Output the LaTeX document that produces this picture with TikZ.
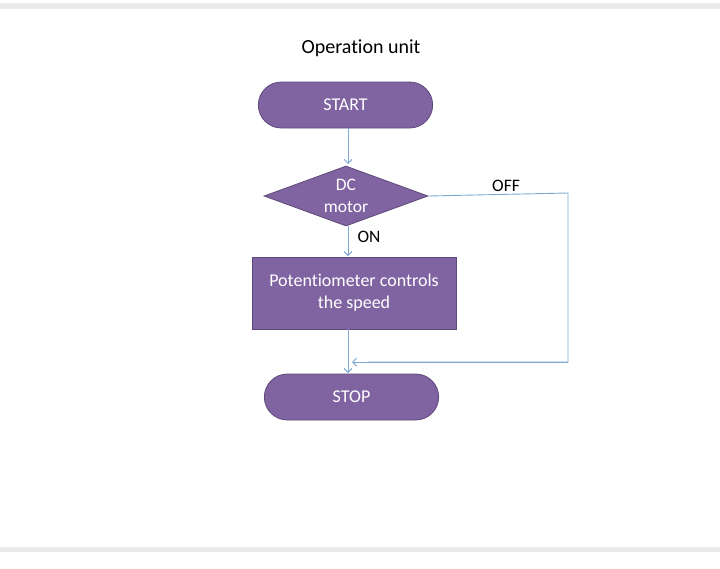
\documentclass[tikz,border=0pt]{standalone}
\usepackage{fontspec}
\setmainfont[Ligatures={NoCommon}]{Carlito}
\usetikzlibrary{shapes.geometric,shapes.misc,arrows.meta}
\definecolor{purp}{HTML}{8064A2}
\definecolor{purpedge}{HTML}{5E4A7A}
\definecolor{linec}{HTML}{7FA9D2}
\definecolor{band}{HTML}{EBEBEB}
\tikzset{
  term/.style={rounded rectangle, fill=purp, draw=purpedge, line width=0.8pt, minimum width=181pt, minimum height=46pt, text=white, font=\fontsize{18}{20}\selectfont},
  dec/.style={diamond, aspect=2.73, fill=purp, draw=purpedge, line width=0.8pt, minimum width=164pt, minimum height=60pt, inner sep=0pt, text=white, align=center, font=\fontsize{17.5}{22}\selectfont},
  proc/.style={rectangle, fill=purp, draw=purpedge, line width=0.8pt, minimum width=204pt, minimum height=72pt, text=white, align=center, font=\fontsize{18}{22}\selectfont},
  conn/.style={draw=linec, line width=0.9pt, -{Straight Barb[length=4pt,width=8pt]}},
  lbl/.style={font=\fontsize{17.5}{20}\selectfont}
}
\begin{document}
\begin{tikzpicture}[x=1pt,y=-1pt]
\useasboundingbox (0,0) rectangle (720,568);
\fill[white] (0,0) rectangle (720,568);
\fill[band] (0,3) rectangle (720,9);
\fill[band] (0,547) rectangle (720,552);
\node[font=\fontsize{20}{24}\selectfont] (title) at (361,48) {Operation unit};
\node[term] (start) at (345.5,105) {START};
\node[dec] (dc) at (346,196) {DC\\motor};
\node[proc] (pot) at (354,293) {Potentiometer controls\\the speed};
\node[term] (stop) at (351.5,397) {STOP};
\coordinate (c1) at (568,193);
\coordinate (c2) at (568,362);
\coordinate (c3) at (352,362);
\draw[conn] (348,128) -- (348,164);
\draw[conn] (348,226) -- (348,256);
\draw[conn] (348,329) -- (348,373);
\draw[draw=linec, line width=0.9pt] (dc.east) -- (c1) -- (c2) -- ++(-200,0);
\draw[conn] (c2) -- (c3);
\node[lbl, anchor=west] (on) at (354,237) {ON};
\node[lbl] (off) at (506,186) {OFF};
\end{tikzpicture}
\end{document}
